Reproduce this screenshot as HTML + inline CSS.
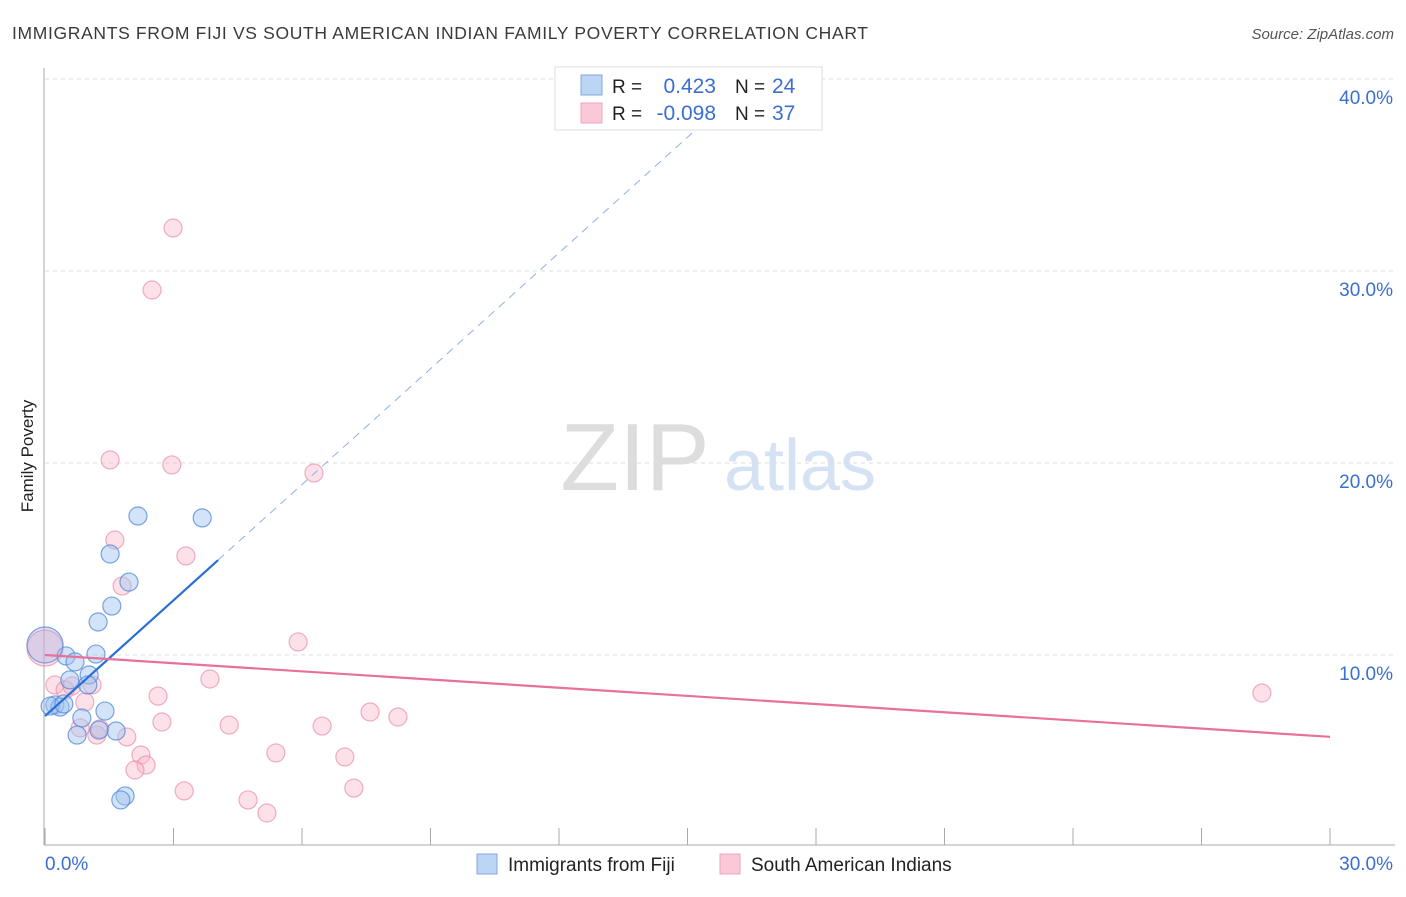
<!DOCTYPE html>
<html><head><meta charset="utf-8">
<style>
body{margin:0;background:#fff;font-family:"Liberation Sans",sans-serif;}
svg text{font-family:"Liberation Sans",sans-serif;}
</style></head>
<body>
<svg id="chart" width="1406" height="892" xmlns="http://www.w3.org/2000/svg">
<text x="12" y="39" font-size="17.5" fill="#3a3a3a" textLength="856">IMMIGRANTS FROM FIJI VS SOUTH AMERICAN INDIAN FAMILY POVERTY CORRELATION CHART</text>
<text x="1394" y="39" font-size="15" fill="#555" text-anchor="end" font-style="italic">Source: ZipAtlas.com</text>
<text transform="translate(33,456) rotate(-90)" font-size="17" fill="#222" text-anchor="middle">Family Poverty</text>
<g>
<text x="635" y="490" font-size="96" fill="#ddd" font-family="Liberation Serif" text-anchor="middle">ZIP</text>
<text x="800" y="490" font-size="72" fill="#d4e2f4" text-anchor="middle">atlas</text>
</g>
<g id="grid"></g>
<g id="axes"></g>
<g id="marks"></g>
<g>
<rect x="555" y="67" width="267" height="63" fill="#fff" stroke="#ddd"/>
<rect x="581" y="75" width="21" height="20" fill="#bcd5f5" stroke="#7ea8e0"/>
<rect x="581" y="103" width="21" height="20" fill="#fbc8d8" stroke="#eea3bc"/>
<text x="612" y="93" font-size="19" fill="#222">R =</text>
<text x="716" y="93" font-size="21" fill="#3a6fd0" text-anchor="end">0.423</text>
<text x="735" y="93" font-size="19" fill="#222">N =</text>
<text x="772" y="93" font-size="21" fill="#3a6fd0">24</text>
<text x="612" y="120" font-size="19" fill="#222">R =</text>
<text x="716" y="120" font-size="21" fill="#3a6fd0" text-anchor="end">-0.098</text>
<text x="735" y="120" font-size="19" fill="#222">N =</text>
<text x="772" y="120" font-size="21" fill="#3a6fd0">37</text>
</g>
<g>
<rect x="477" y="854" width="20" height="20" fill="#bcd5f5" stroke="#7ea8e0"/>
<text x="508" y="871" font-size="19" fill="#222">Immigrants from Fiji</text>
<rect x="720" y="854" width="20" height="20" fill="#fbc8d8" stroke="#eea3bc"/>
<text x="751" y="871" font-size="19" fill="#222">South American Indians</text>
</g>
</svg>
<script>
const yTicks=[10,20,30,40];
const yTickLabels=["10.0%","20.0%","30.0%","40.0%"];
const xTickCount=10;
const fijiX=[2.17,3.67,1.52,1.96,1.56,1.24,1.19,0.49,0.70,0.0,1.03,0.58,0.23,0.35,0.12,0.44,0.86,1.40,0.75,1.26,1.66,1.87,1.77,1.00];
const fijiY=[17.24,17.14,15.26,13.80,12.55,11.72,10.05,9.95,9.64,10.52,8.96,8.70,7.40,7.29,7.34,7.45,6.72,7.08,5.83,6.09,6.04,2.66,2.45,8.44];
const fijiR=[9,9,9,9,9,9,9,9,9,18,9,9,9,9,9,9,9,9,9,9,9,9,9,9];
const saX=[2.99,2.50,1.52,2.96,6.28,1.63,3.29,1.80,5.91,28.41,0.0,0.23,0.47,0.63,1.10,0.93,2.64,3.85,2.73,4.30,7.59,8.24,6.47,1.21,1.91,2.24,2.36,2.10,5.39,7.00,3.25,7.21,4.74,5.18,0.82,1.28];
const saY=[32.24,29.01,20.16,19.90,19.48,15.99,15.16,13.59,10.68,8.02,10.36,8.44,8.18,8.39,8.44,7.55,7.86,8.75,6.51,6.35,7.03,6.77,6.30,5.83,5.73,4.79,4.27,4.01,4.90,4.69,2.92,3.07,2.45,1.77,6.20,6.15];
const fijiTrend=[6.82,2.01];
const saTrend=[10.0,-0.142];
const fijiSolidEnd=4.04, fijiDashEnd=15.3;

const NS="http://www.w3.org/2000/svg";
const X0=45,X1=1330,Y0=847,PPY=19.2;
const sx=v=>X0+(X1-X0)*v/30;
const sy=v=>Y0-v*PPY;
function mk(tag,attrs,parent){const e=document.createElementNS(NS,tag);for(const k in attrs)e.setAttribute(k,attrs[k]);parent.appendChild(e);return e;}
const grid=document.getElementById('grid'),axes=document.getElementById('axes'),marks=document.getElementById('marks');
yTicks.forEach((t,i)=>{
 const l=mk('line',{x1:45,x2:1395,y1:sy(t),y2:sy(t),stroke:'#ddd','stroke-dasharray':'4,4'},grid);
 
 
 const tx=mk('text',{x:1393,y:sy(t)+25,'font-size':19,fill:'#3a6fd0','text-anchor':'end'},axes);
 tx.textContent=yTickLabels[i];
 
 
});
const ya=mk('line',{x1:44,x2:44,y1:68,y2:845,stroke:'#aaa'},axes);


const xa=mk('line',{x1:44,x2:1395,y1:845,y2:845,stroke:'#aaa'},axes);


for(let i=0;i<=xTickCount;i++){
 const x=sx(30*i/xTickCount);
 const t=mk('line',{x1:x,x2:x,y1:828,y2:845,stroke:'#aaa'},axes);
 
 
}
const xl0=mk('text',{x:45,y:870,'font-size':19,fill:'#3a6fd0'},axes);xl0.textContent="0.0%";


const xl1=mk('text',{x:1393,y:870,'font-size':19,fill:'#3a6fd0','text-anchor':'end'},axes);xl1.textContent="30.0%";



saX.forEach((v,i)=>{
 const c=mk('circle',{cx:sx(v),cy:sy(saY[i]),r:i==10?18:9,fill:'rgba(248,180,200,0.4)',stroke:'rgba(235,140,170,0.7)','stroke-width':1.2},marks);
 
 
});
fijiX.forEach((v,i)=>{
 const c=mk('circle',{cx:sx(v),cy:sy(fijiY[i]),r:fijiR[i],fill:i==9?'rgba(160,170,230,0.35)':'rgba(160,195,240,0.45)',stroke:'rgba(80,135,215,0.75)','stroke-width':1.2},marks);
 
 
});
const f=x=>fijiTrend[0]+fijiTrend[1]*x, s=x=>saTrend[0]+saTrend[1]*x;
const l1=mk('line',{x1:sx(0),y1:sy(f(0)),x2:sx(fijiSolidEnd),y2:sy(f(fijiSolidEnd)),stroke:'#2a6fd6','stroke-width':2.2},marks);


const l2=mk('line',{x1:sx(fijiSolidEnd),y1:sy(f(fijiSolidEnd)),x2:sx(fijiDashEnd),y2:sy(f(fijiDashEnd)),stroke:'#8fb0e6','stroke-width':1,'stroke-dasharray':'8,6'},marks);


const l3=mk('line',{x1:sx(0),y1:sy(s(0)),x2:sx(30),y2:sy(s(30)),stroke:'#e8709a','stroke-width':2.2},marks);


</script>
</body></html>
